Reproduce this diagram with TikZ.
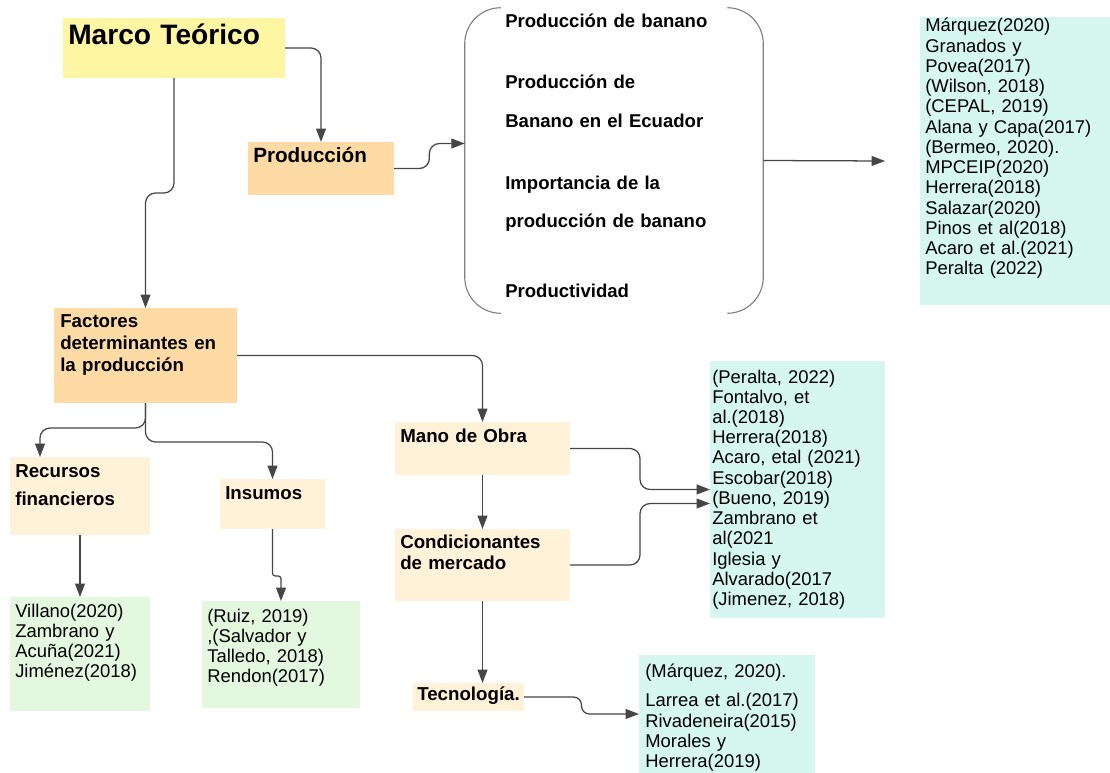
\documentclass[tikz,border=0pt]{standalone}
\usepackage{fontspec}
\setmainfont{Liberation Sans}
\usetikzlibrary{arrows.meta, calc, fit}

\definecolor{amarillo}{RGB}{255,246,163}
\definecolor{durazno}{RGB}{254,219,165}
\definecolor{crema}{RGB}{255,242,216}
\definecolor{verde}{RGB}{227,248,223}
\definecolor{celeste}{RGB}{213,247,240}
\definecolor{trazo}{RGB}{70,70,70}

\newcommand{\fuenteLista}{\fontsize{13.1}{14.4}\selectfont}
\newcommand{\fuenteTitulo}{\fontsize{13.3}{15.3}\selectfont\bfseries}

\tikzset{
    caja/.style={inner sep=0pt, outer sep=0pt, fill=#1},
    texto/.style={anchor=base west, inner sep=0pt, text width=#1, align=left},
    titulo/.style={texto=#1, font=\fuenteTitulo},
    lista/.style={texto=#1, font=\fuenteLista},
    flecha/.style={draw=trazo, line width=0.9pt, rounded corners=0.25cm,
        -{Triangle[length=9.5pt, width=7pt]}},
    corchete/.style={draw=gray, line width=0.8pt, rounded corners=0.9cm}
}

\begin{document}
\begin{tikzpicture}[x=0.025cm, y=-0.025cm]
    \useasboundingbox[fill=white] (0,0) rectangle (1110,773);

    \node[caja=amarillo, fit={(63,18) (285,78)}] (marco) {};
    \node[texto=6cm, font=\fontsize{20}{24}\selectfont\bfseries] (marco-t) at (68,45) {Marco Teórico};

    \node[caja=durazno, fit={(248,142) (394,195)}] (prod) {};
    \node[texto=4cm, font=\fontsize{14.7}{17}\selectfont\bfseries] (prod-t) at (253,163) {Producción};

    \node[fit={(465,8) (763,313)}, inner sep=0pt] (temas) {};
    \draw[corchete] ($(temas.north west)+(36,0)$) -| (temas.south west) -- ++(36,0);
    \draw[corchete] ($(temas.north east)+(-36,0)$) -| (temas.south east) -- ++(-36,0);
    \foreach \y/\t [count=\i] in {28/Producción de banano, 89/Producción de,
        128/Banano en el Ecuador, 190/Importancia de la,
        228/producción de banano, 298/Productividad}{
        \node[titulo=6cm, font=\fontsize{13.2}{15}\selectfont\bfseries] (tema\i) at (505,\y) {\t};
    }

    \node[caja=celeste, fit={(920,17) (1110,305)}] (lista1) {};
    \node[lista=4.6cm] (lista1-t) at (925,32) {Márquez(2020)\\Granados y\\Povea(2017)\\(Wilson, 2018)\\(CEPAL, 2019)\\Alana y Capa(2017)\\(Bermeo, 2020).\\MPCEIP(2020)\\Herrera(2018)\\Salazar(2020)\\Pinos et al(2018)\\Acaro et al.(2021)\\Peralta (2022)};
    \coordinate (fin) at (885,161);

    \node[caja=durazno, fit={(54,308) (237,403)}] (fac) {};
    \node[titulo=5cm] (fac-t) at (60,328) {Factores\\determinantes en\\la producción};

    \node[caja=crema, fit={(10,457) (150,535)}] (rec) {};
    \node[titulo=3.4cm] (rec-t) at (15,477) {Recursos\\[4.7pt]financieros};

    \node[caja=crema, fit={(220,479) (325,529)}] (ins) {};
    \node[titulo=2.5cm] (ins-t) at (225,499) {Insumos};

    \node[caja=verde, fit={(10,597) (150,711)}] (vil) {};
    \node[lista=3.4cm] (vil-t) at (15,617) {Villano(2020)\\Zambrano y\\Acuña(2021)\\Jiménez(2018)};

    \node[caja=verde, fit={(202,601) (360,708)}] (ruiz) {};
    \node[lista=3.8cm] (ruiz-t) at (207,622) {(Ruiz, 2019)\\,(Salvador y\\Talledo, 2018)\\Rendon(2017)};

    \node[caja=crema, fit={(395,422) (570,475)}] (mano) {};
    \node[titulo=4.2cm] (mano-t) at (400,442) {Mano de Obra};

    \node[caja=crema, fit={(395,529) (570,601)}] (cond) {};
    \node[titulo=4.2cm] (cond-t) at (400,548) {Condicionantes\\de mercado};

    \node[caja=crema, fit={(413,683) (524,711)}] (tec) {};
    \node[titulo=2.6cm] (tec-t) at (417,700) {Tecnología.};

    \node[caja=celeste, fit={(710,361) (885,618)}] (lista2) {};
    \node[lista=4.3cm] (lista2-t) at (712,383) {(Peralta, 2022)\\Fontalvo, et\\al.(2018)\\Herrera(2018)\\Acaro, etal (2021)\\Escobar(2018)\\(Bueno, 2019)\\Zambrano et\\al(2021\\Iglesia y\\Alvarado(2017\\(Jimenez, 2018)};

    \node[caja=celeste, fit={(639,655) (815,773)}] (lista3) {};
    \node[lista=4.2cm] (lista3-t) at (645,677) {(Márquez, 2020).\\[6.9pt]Larrea et al.(2017)\\Rivadeneira(2015)\\Morales y\\Herrera(2019)};

    \coordinate (entrada) at ($(temas.west)+(0,-17)$);
    \coordinate (entrada2) at ($(lista2.west)+(0,14)$);
    \coordinate (m1) at ($(prod.east)!0.5!(entrada)$);
    \coordinate (m2) at ($(mano.east)!0.5!(lista2.west)$);
    \coordinate (m3) at ($(cond.east)!0.5!(entrada2)$);
    \coordinate (m4) at ($(tec.east)!0.5!(lista3.west)$);

    \draw[flecha] (marco.east) -| (prod.north);
    \draw[flecha] (marco.south) -- ++(0,115) -| (fac.north);
    \draw[flecha] (prod.east) -| (m1 |- entrada) -- (entrada);
    \draw[flecha] (temas.east) -- (fin);
    \draw[flecha] (fac.east) -| (mano.north);
    \draw[flecha] (fac.south) -- ++(0,25) -| ($(rec.north west)+(30,0)$);
    \draw[flecha] (fac.south) -- ++(0,39) -| (ins.north);
    \draw[flecha] (rec.south) -- (vil.north);
    \draw[flecha, rounded corners=2pt] (ins.south) -- ++(0,47) -| (ruiz.north);
    \draw[flecha] (mano.south) -- (cond.north);
    \draw[flecha] (mano.east) -| (m2 |- lista2.west) -- (lista2.west);
    \draw[flecha] (cond.east) -| (m3 |- entrada2) -- (entrada2);
    \draw[flecha] (cond.south) -- (cond.south |- tec.north);
    \draw[flecha, rounded corners=0.2cm] (tec.east) -| (m4 |- lista3.west) -- (lista3.west);
\end{tikzpicture}
\end{document}
